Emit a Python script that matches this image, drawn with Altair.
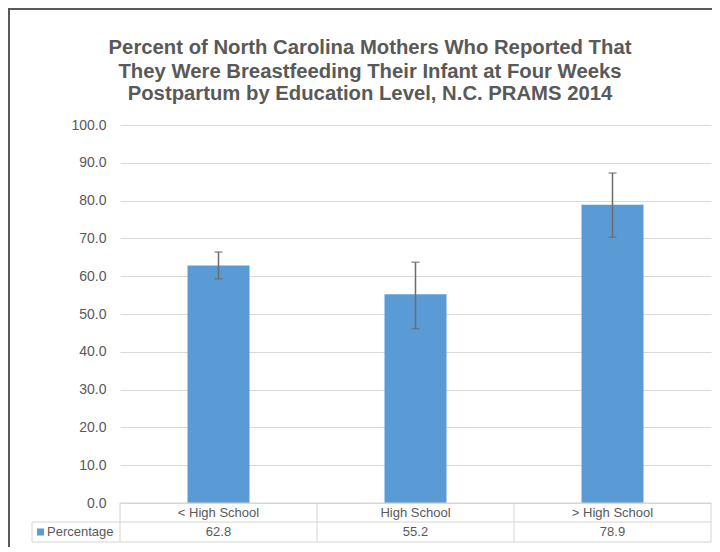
import altair as alt
import pandas as pd

categories = ["< High School", "High School", "> High School"]
values = [62.8, 55.2, 78.9]
ci_low = [59.3, 46.1, 70.3]
ci_high = [66.4, 63.7, 87.3]
value_labels = ["62.8", "55.2", "78.9"]
series_name = "Percentage"
y_ticks = [0, 10, 20, 30, 40, 50, 60, 70, 80, 90, 100]
title_lines = [
    "Percent of North Carolina Mothers Who Reported That",
    "They Were Breastfeeding Their Infant at Four Weeks",
    "Postpartum by Education Level, N.C. PRAMS 2014",
]

W, H = 591, 378
FONT = "Liberation Sans"
TXT = "#595959"
BAR = "#5B9BD5"
GRID = "#d9d9d9"
TBL = "#d4d4d4"
ERR = "#6b6b6b"

df = pd.DataFrame({"cat": categories, "val": values, "lo": ci_low, "hi": ci_high, "lab": value_labels})
one = pd.DataFrame({"k": [0]})

xs = alt.Scale(domain=categories, paddingInner=0, paddingOuter=0)
ys = alt.Scale(domain=[0, 100], nice=False)
AX = alt.Axis(values=y_ticks, tickCount=len(y_ticks), format=".1f", grid=True,
              gridColor=GRID, gridWidth=1, domain=False, ticks=False,
              labelFont=FONT, labelFontSize=14, labelColor=TXT,
              labelPadding=14, labelOverlap=False, title=None)

base = alt.Chart(df)
X = alt.X("cat:N", scale=xs, axis=None, sort=categories)

bars = base.mark_bar(size=62, color=BAR).encode(
    x=X, y=alt.Y("val:Q", scale=ys, axis=AX, title=None))

err = base.mark_rule(color=ERR, strokeWidth=1.5).encode(
    x=X, y=alt.Y("lo:Q", scale=ys, axis=AX, title=None), y2="hi:Q")
cap_lo = base.mark_tick(color=ERR, size=8, thickness=1.5).encode(
    x=X, y=alt.Y("lo:Q", scale=ys, axis=AX, title=None))
cap_hi = base.mark_tick(color=ERR, size=8, thickness=1.5).encode(
    x=X, y=alt.Y("hi:Q", scale=ys, axis=AX, title=None))

# data table below the plot
hdr = base.mark_text(font=FONT, fontSize=13, color=TXT, baseline="middle").encode(
    x=X, y=alt.value(H + 9.5), text="cat:N")
vals = base.mark_text(font=FONT, fontSize=13, color=TXT, baseline="middle").encode(
    x=X, y=alt.value(H + 29), text="lab:N")
vlines = base.mark_rule(color=TBL, strokeWidth=1).encode(
    x=alt.X("cat:N", scale=xs, axis=None, sort=categories, bandPosition=0),
    y=alt.value(H), y2=alt.value(H + 39))

t1 = alt.Chart(one).mark_rule(color=TBL, strokeWidth=1).encode(
    x=alt.value(0), x2=alt.value(W), y=alt.value(H))
t2 = alt.Chart(one).mark_rule(color=TBL, strokeWidth=1).encode(
    x=alt.value(-88), x2=alt.value(W), y=alt.value(H + 19))
t3 = alt.Chart(one).mark_rule(color=TBL, strokeWidth=1).encode(
    x=alt.value(-88), x2=alt.value(W), y=alt.value(H + 39))
t4 = alt.Chart(one).mark_rule(color=TBL, strokeWidth=1).encode(
    x=alt.value(-88), y=alt.value(H + 19), y2=alt.value(H + 39))
t5 = alt.Chart(one).mark_rule(color=TBL, strokeWidth=1).encode(
    x=alt.value(W), y=alt.value(H), y2=alt.value(H + 39))

leg_sq = alt.Chart(one).mark_square(size=49, color=BAR, opacity=1).encode(
    x=alt.value(-79.5), y=alt.value(H + 29))
leg_tx = alt.Chart(one).mark_text(font=FONT, fontSize=13, color=TXT, align="left",
                                  baseline="middle").encode(
    x=alt.value(-73), y=alt.value(H + 29), text=alt.value(series_name))

title_layers = []
for line, yy in zip(title_lines, [-77, -53.5, -31]):
    title_layers.append(
        alt.Chart(one).mark_text(font=FONT, fontSize=20.3, fontWeight="bold", color=TXT,
                                 baseline="middle", align="center").encode(
            x=alt.value(250), y=alt.value(yy), text=alt.value(line)))

border_top = alt.Chart(one).mark_rule(color="#595959", strokeWidth=2).encode(
    x=alt.value(-112), x2=alt.value(W + 1), y=alt.value(-116))
border_left = alt.Chart(one).mark_rule(color="#595959", strokeWidth=2).encode(
    x=alt.value(-111), y=alt.value(-117), y2=alt.value(H + 45))

chart = alt.layer(
    bars, err, cap_lo, cap_hi, hdr, vals, vlines, t1, t2, t3, t4, t5, leg_sq, leg_tx,
    *title_layers, border_top, border_left
).properties(
    width=W, height=H,
    autosize=alt.AutoSizeParams(type="none"),
    padding={"left": 112, "top": 117, "right": 1, "bottom": 44},
    background="white",
).configure_view(stroke=None)

chart.save("out.html", embed_options={"renderer": "svg", "actions": False})
